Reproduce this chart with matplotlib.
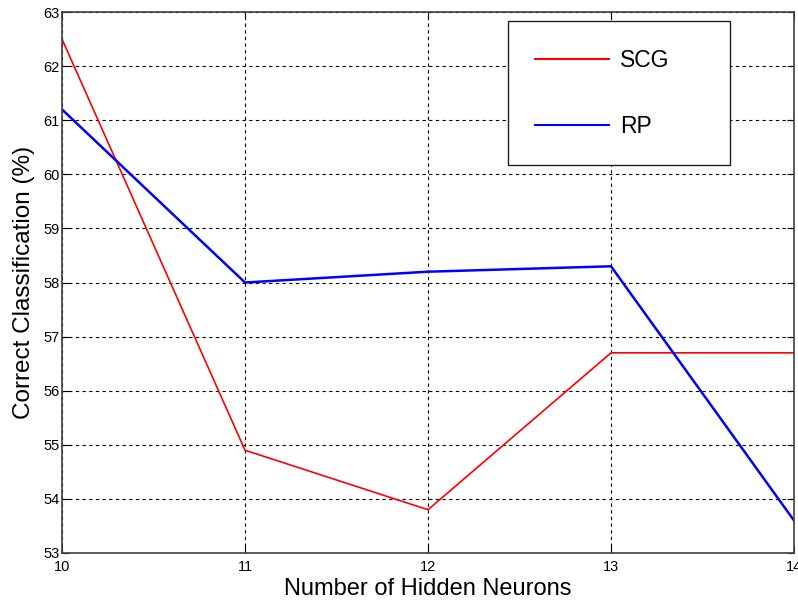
import matplotlib.pyplot as plt

plt.rcParams['font.family'] = ['Liberation Sans', 'DejaVu Sans']

neurons = [10, 11, 12, 13, 14]
scg = [62.5, 54.9, 53.8, 56.7, 56.7]
rp = [61.2, 58.0, 58.2, 58.3, 53.6]

fig = plt.figure(figsize=(7.98, 6.02), dpi=100)
ax = fig.add_axes([0.0777, 0.0814, 0.9173, 0.8986])

ax.plot(neurons, scg, color='#ff0000', lw=1.2, label='SCG')
ax.plot(neurons, rp, color='#0000ff', lw=1.8, label='RP')

ax.set_xlim(10, 14)
ax.set_ylim(53, 63)
ax.set_xticks(neurons)
ax.set_yticks(range(53, 64))

ax.grid(True, color='black', linestyle=(0, (3, 3)), lw=0.8)
ax.tick_params(direction='in', length=5, width=0.8, top=True, right=True,
               labelsize=10.5, colors='black', pad=2)
ax.tick_params(axis='x', pad=5)
for s in ax.spines.values():
    s.set_color('#404040')
    s.set_linewidth(1.2)

ax.set_xlabel('Number of Hidden Neurons', fontsize=17, labelpad=3)
ax.set_ylabel('Correct Classification (%)', fontsize=17.5, labelpad=6)

leg = ax.legend(loc='upper left', bbox_to_anchor=(0.609, 0.715, 0.3036, 0.268),
                mode='expand', borderaxespad=0, fontsize=16.5, handlelength=3.2,
                handletextpad=0.5, labelspacing=1.88, borderpad=1.2,
                fancybox=False, framealpha=1)
leg.get_frame().set_edgecolor('#202020')
leg.get_frame().set_linewidth(1.0)
for line in leg.get_lines():
    line.set_linewidth(1.5)

fig.savefig('out.png', dpi=100)
